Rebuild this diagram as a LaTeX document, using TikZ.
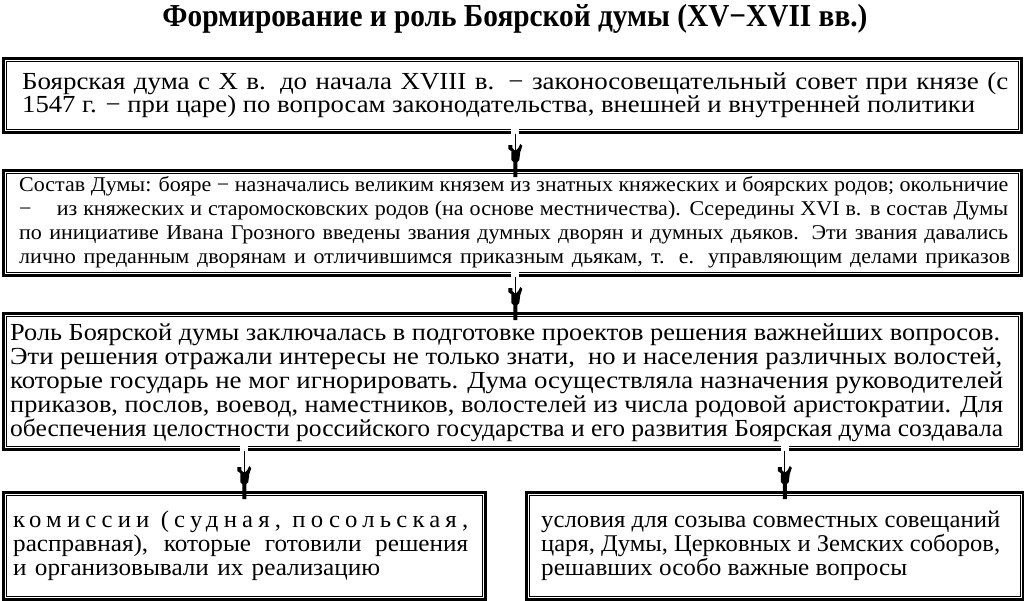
\documentclass[tikz,border=0pt]{standalone}
\usepackage{graphicx}
\usepackage{fontspec}
\setmainfont{Liberation Serif}
\newfontfamily\titlefont{Liberation Serif}[FakeStretch=0.7]
\newfontfamily\wfont{Liberation Serif}[FakeStretch=1.1]
\newfontfamily\mfont{Liberation Serif}[FakeStretch=1.05]
\newfontfamily\lsfont{Liberation Serif}[FakeStretch=1.05,LetterSpace=22]
\usetikzlibrary{calc}
\newsavebox\lnbox
\newcommand\jl[2]{\sbox\lnbox{#2}\ifdim\wd\lnbox>#1\relax\resizebox{#1}{\height}{\usebox\lnbox}\else\makebox[#1][s]{#2}\fi}
\newcommand\boxinner[1]{\draw[line width=0.7pt] ($(#1.north west)+(4,4)$) rectangle ($(#1.south east)+(-4,-4)$);}
\newcommand\conn[2]{%
  \fill[white] ($(#1)+(-4,-6)$) rectangle ($(#1)+(4,2)$);
  \draw[line width=0.9pt] (#1) -- ($(#2)+(0,-18)$);
  \begin{scope}[shift={(#2)}]
    \fill (-7,-24) -- (-3,-24) -- (-3,-21) -- (-1,-19) -- (1,-19) -- (3,-21) -- (5,-25) -- (7,-23) -- (5,-17) -- (4,-9) -- (2,-7) -- (2,8) -- (-2,8) -- (-2,-7) -- (-4,-9) -- (-4,-18) -- (-7,-20) -- cycle;
  \end{scope}}
\begin{document}
\begin{tikzpicture}[x=1pt,y=-1pt,
  bx/.style={draw, line width=2.5pt, inner sep=0pt, anchor=north west},
  txt/.style={inner sep=0pt, anchor=base west, font=\wfont\fontsize{24.5}{26}\selectfont},
  txtb/.style={inner sep=0pt, anchor=base west, font=\mfont\fontsize{21}{24}\selectfont},
  txtc/.style={inner sep=0pt, anchor=base west, font=\mfont\fontsize{24}{25}\selectfont}]
\useasboundingbox[fill=white] (0,0) rectangle (1024,600);
\node[inner sep=0pt, anchor=base, font=\titlefont\bfseries\fontsize{32}{34}\selectfont] (title) at (515,26) {\resizebox{705pt}{\height}{Формирование и роль Боярской думы (XV−XVII вв.)}};

\node[bx, minimum width=1018pt, minimum height=74pt] (b1) at (2,57) {};
\node[bx, minimum width=1018pt, minimum height=105pt] (b2) at (2,169) {};
\node[bx, minimum width=1018pt, minimum height=136pt] (b3) at (2,312) {};
\node[bx, minimum width=482pt, minimum height=107pt] (b4) at (2,491) {};
\node[bx, minimum width=497pt, minimum height=107pt] (b5) at (525,491) {};
\foreach \n in {b1,b2,b3,b4,b5} {\boxinner{\n}}

\node[txt] (t11) at (22,89) {\jl{986pt}{Боярская дума с X в. до начала XVIII в. − законосовещательный совет при князе (с}};
\node[txt] (t12) at (22,112) {\jl{953pt}{1547 г. − при царе) по вопросам законодательства, внешней и внутренней политики}};

\node[txtb] (t21) at (19,191) {\jl{989pt}{Состав Думы: бояре − назначались великим князем из знатных княжеских и боярских родов; окольничие}};
\node[txtb] (t22) at (19,215) {\jl{989pt}{−\hspace{1.2em}из княжеских и старомосковских родов (на основе местничества). Ссередины XVI в. в состав Думы}};
\node[txtb] (t23) at (19,239) {\jl{989pt}{по инициативе Ивана Грозного введены звания думных дворян и думных дьяков. Эти звания давались}};
\node[txtb] (t24) at (19,263) {\jl{991pt}{лично преданным дворянам и отличившимся приказным дьякам, т. е. управляющим делами приказов}};

\node[txt] (t31) at (10,340) {\jl{990pt}{Роль Боярской думы заключалась в подготовке проектов решения важнейших вопросов.}};
\node[txt] (t32) at (10,364) {\jl{992pt}{Эти решения отражали интересы не только знати, \ но и населения различных волостей,}};
\node[txt] (t33) at (10,388) {\jl{993pt}{которые государь не мог игнорировать. Дума осуществляла назначения руководителей}};
\node[txt] (t34) at (10,412) {\jl{993pt}{приказов, послов, воевод, наместников, волостелей из числа родовой аристократии. Для}};
\node[txt] (t35) at (10,436) {\jl{993pt}{обеспечения целостности российского государства и его развития Боярская дума создавала}};

\node[txtc] (t41) at (13,527) {\jl{455pt}{\lsfont комиссии (судная, посольская,}};
\node[txtc] (t42) at (13,551) {\jl{455pt}{расправная), которые готовили решения}};
\node[txtc] (t43) at (13,575) {\jl{367pt}{и организовывали их реализацию}};

\node[txtc] (t51) at (541,527) {\jl{459pt}{условия для созыва совместных совещаний}};
\node[txtc] (t52) at (541,551) {\jl{459pt}{царя, Думы, Церковных и Земских соборов,}};
\node[txtc] (t53) at (541,575) {\jl{366pt}{решавших особо важные вопросы}};

\conn{$(b1.south)+(3,0)$}{$(b2.north)+(3,0)$}
\conn{$(b2.south)+(3,0)$}{$(b3.north)+(3,0)$}
\conn{$(b3.south -| b4.north)$}{b4.north}
\conn{$(b3.south -| b5.north)+(10,0)$}{$(b5.north)+(10,0)$}
\end{tikzpicture}
\end{document}
